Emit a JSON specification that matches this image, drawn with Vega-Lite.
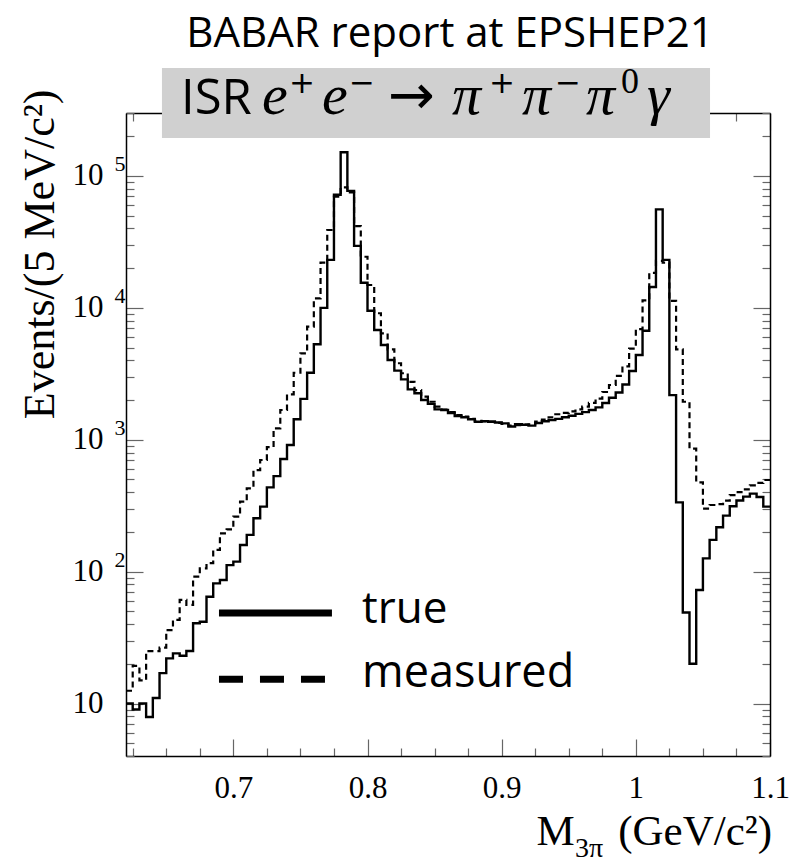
{
  "$schema": "https://vega.github.io/schema/vega-lite/v6.json",
  "width": 644,
  "height": 643,
  "autosize": {"type": "none"},
  "padding": {"left": 126, "top": 113, "right": 24, "bottom": 109},
  "background": "white",
  "config": {"view": {"stroke": null}, "axis": {"grid": false}},
  "datasets": {
    "hist": [
      {"m":0.62,"t":10,"r":12.5},{"m":0.625,"t":9,"r":19.3},{"m":0.63,"t":10,"r":15},{"m":0.635,"t":7.9,"r":25},
      {"m":0.64,"t":11,"r":25},{"m":0.645,"t":17,"r":26.5},{"m":0.65,"t":22,"r":36},{"m":0.655,"t":24,"r":43},
      {"m":0.66,"t":23,"r":61},{"m":0.665,"t":25,"r":56},{"m":0.67,"t":40.6,"r":91.5},{"m":0.675,"t":41.7,"r":106},
      {"m":0.68,"t":64.5,"r":116},{"m":0.685,"t":81.5,"r":146},{"m":0.69,"t":86.4,"r":195},{"m":0.695,"t":112,"r":209},
      {"m":0.7,"t":119,"r":261},{"m":0.705,"t":159,"r":339},{"m":0.71,"t":190,"r":428},{"m":0.715,"t":254,"r":589},
      {"m":0.72,"t":311,"r":702},{"m":0.725,"t":435,"r":880},{"m":0.73,"t":530,"r":1220},{"m":0.735,"t":715,"r":1680},
      {"m":0.74,"t":912,"r":2210},{"m":0.745,"t":1430,"r":3220},{"m":0.75,"t":2040,"r":4520},{"m":0.755,"t":3220,"r":7190},
      {"m":0.76,"t":5300,"r":11800},{"m":0.765,"t":10000,"r":22000},{"m":0.77,"t":23100,"r":38900},{"m":0.775,"t":72000,"r":69600},
      {"m":0.78,"t":151000,"r":82000},{"m":0.785,"t":77000,"r":75000},{"m":0.79,"t":29500,"r":41700},{"m":0.795,"t":15500,"r":24400},
      {"m":0.8,"t":9500,"r":14900},{"m":0.805,"t":6790,"r":9100},{"m":0.81,"t":5230,"r":6410},{"m":0.815,"t":4020,"r":4850},
      {"m":0.82,"t":3340,"r":3800},{"m":0.825,"t":2870,"r":3190},{"m":0.83,"t":2410,"r":2750},{"m":0.835,"t":2250,"r":2380},
      {"m":0.84,"t":2000,"r":2120},{"m":0.845,"t":1870,"r":1940},{"m":0.85,"t":1700,"r":1780},{"m":0.855,"t":1680,"r":1690},
      {"m":0.86,"t":1590,"r":1620},{"m":0.865,"t":1513,"r":1540},{"m":0.87,"t":1480,"r":1500},{"m":0.875,"t":1430,"r":1440},
      {"m":0.88,"t":1370,"r":1390},{"m":0.885,"t":1380,"r":1380},{"m":0.89,"t":1370,"r":1370},{"m":0.895,"t":1350,"r":1340},
      {"m":0.9,"t":1330,"r":1320},{"m":0.905,"t":1260,"r":1280},{"m":0.91,"t":1310,"r":1290},{"m":0.915,"t":1300,"r":1300},
      {"m":0.92,"t":1280,"r":1310},{"m":0.925,"t":1340,"r":1370},{"m":0.93,"t":1380,"r":1420},{"m":0.935,"t":1410,"r":1480},
      {"m":0.94,"t":1440,"r":1560},{"m":0.945,"t":1480,"r":1600},{"m":0.95,"t":1520,"r":1640},{"m":0.955,"t":1570,"r":1700},
      {"m":0.96,"t":1620,"r":1780},{"m":0.965,"t":1680,"r":1900},{"m":0.97,"t":1760,"r":2050},{"m":0.975,"t":1900,"r":2300},
      {"m":0.98,"t":2080,"r":2600},{"m":0.985,"t":2280,"r":3050},{"m":0.99,"t":2620,"r":3600},{"m":0.995,"t":3320,"r":4900},
      {"m":1.0,"t":4390,"r":6900},{"m":1.005,"t":6700,"r":11400},{"m":1.01,"t":14400,"r":18400},{"m":1.015,"t":55800,"r":22700},
      {"m":1.02,"t":23100,"r":22000},{"m":1.025,"t":2180,"r":11300},{"m":1.03,"t":335,"r":4850},{"m":1.035,"t":49,"r":1940},
      {"m":1.04,"t":20,"r":855},{"m":1.045,"t":72.6,"r":475},{"m":1.05,"t":126,"r":300},{"m":1.055,"t":174,"r":320},
      {"m":1.06,"t":217,"r":325},{"m":1.065,"t":266,"r":345},{"m":1.07,"t":313,"r":380},{"m":1.075,"t":346,"r":400},
      {"m":1.08,"t":370,"r":420},{"m":1.085,"t":390,"r":450},{"m":1.09,"t":368,"r":470},{"m":1.095,"t":311,"r":495},
      {"m":1.1,"t":311,"r":495}
    ]
  },
  "data": {"name": "hist"},
  "resolve": {"axis": {"x": "independent", "y": "independent"}},
  "layer": [
    {
      "data": {"values": [{}]},
      "mark": {"type": "rect", "color": "#d0d0d0", "clip": false},
      "encoding": {
        "x": {"datum": 0.6468, "type": "quantitative",
          "axis": {"orient": "top", "values": [0.625,0.65,0.675,0.7,0.725,0.75,0.775,0.8,0.825,0.85,0.875,0.9,0.925,0.95,0.975,1,1.025,1.05,1.075,1.1],
            "labels": false, "title": null, "domainColor": "#000", "domainWidth": 1.5, "tickColor": "#666", "tickWidth": 1.2,
            "tickSize": {"condition": {"test": "abs(datum.value*10-round(datum.value*10))<0.001", "value": -17}, "value": -8}}},
        "x2": {"datum": 1.0553},
        "y": {"datum": 194000, "type": "quantitative",
          "axis": {"orient": "right", "values": [4,5,6,7,8,9,10,20,30,40,50,60,70,80,90,100,200,300,400,500,600,700,800,900,1000,2000,3000,4000,5000,6000,7000,8000,9000,10000,20000,30000,40000,50000,60000,70000,80000,90000,100000,200000,300000],
            "labels": false, "title": null, "domainColor": "#000", "domainWidth": 1.5, "tickColor": "#666", "tickWidth": 1.2,
            "tickSize": {"condition": {"test": "abs(log(datum.value)/LN10-round(log(datum.value)/LN10))<0.001", "value": -17}, "value": -8}}},
        "y2": {"datum": 658000}
      }
    },
    {
      "mark": {"type": "line", "interpolate": "step-after", "color": "black", "strokeWidth": 2.4, "clip": true},
      "encoding": {
        "x": {"field": "m", "type": "quantitative", "scale": {"domain": [0.62, 1.1], "nice": false, "zero": false},
          "axis": {"orient": "bottom", "values": [0.625,0.65,0.675,0.7,0.725,0.75,0.775,0.8,0.825,0.85,0.875,0.9,0.925,0.95,0.975,1,1.025,1.05,1.075,1.1],
            "labels": false, "title": null, "domainColor": "#000", "domainWidth": 1.5, "tickColor": "#666", "tickWidth": 1.2,
            "tickSize": {"condition": {"test": "abs(datum.value*10-round(datum.value*10))<0.001", "value": -17}, "value": -8}}},
        "y": {"field": "t", "type": "quantitative", "scale": {"type": "log", "domain": [4, 300000], "nice": false},
          "axis": {"orient": "left", "values": [4,5,6,7,8,9,10,20,30,40,50,60,70,80,90,100,200,300,400,500,600,700,800,900,1000,2000,3000,4000,5000,6000,7000,8000,9000,10000,20000,30000,40000,50000,60000,70000,80000,90000,100000,200000,300000],
            "labels": false, "title": null, "domainColor": "#000", "domainWidth": 1.5, "tickColor": "#666", "tickWidth": 1.2,
            "tickSize": {"condition": {"test": "abs(log(datum.value)/LN10-round(log(datum.value)/LN10))<0.001", "value": -17}, "value": -8}}}
      }
    },
    {
      "mark": {"type": "line", "interpolate": "step-after", "color": "black", "strokeWidth": 2.2, "strokeDash": [6, 4], "clip": true},
      "encoding": {
        "x": {"field": "m", "type": "quantitative",
          "axis": {"orient": "bottom", "values": [0.7, 0.8, 0.9, 1, 1.1], "ticks": false, "domain": false,
            "labelExpr": "format(datum.value, '~g')", "labelFont": "Liberation Serif", "labelFontSize": 31, "labelColor": "black",
            "labelPadding": 17, "labelFlush": false, "labelOverlap": false, "labelBound": false, "title": null}},
        "y": {"field": "r", "type": "quantitative",
          "axis": {"orient": "left", "values": [10, 100, 1000, 10000, 100000], "ticks": false, "domain": false,
            "labelExpr": "'10'", "labelFont": "Liberation Serif", "labelFontSize": 31, "labelColor": "black",
            "labelAlign": "right", "labelBaseline": "middle", "labelPadding": 23, "labelOverlap": false,
            "title": "Events/(5 MeV/c²)", "titleFont": "Liberation Serif", "titleFontSize": 44, "titleFontWeight": "normal",
            "titleColor": "black", "titleAngle": 270, "titleAlign": "right", "titleBaseline": "alphabetic", "titleX": -73, "titleY": -24}}
      }
    },
    {
      "data": {"values": [{}]},
      "mark": {"type": "rule", "color": "black", "strokeWidth": 7},
      "encoding": {
        "x": {"datum": 0.6893, "type": "quantitative", "axis": null},
        "x2": {"datum": 0.7735},
        "y": {"datum": 48.5, "type": "quantitative",
          "axis": {"orient": "left", "values": [100, 1000, 10000, 100000], "ticks": false, "domain": false,
            "labelExpr": "'' + round(log(datum.value)/LN10)", "labelFont": "Liberation Serif", "labelFontSize": 22, "labelColor": "black",
            "labelAlign": "right", "labelBaseline": "middle", "labelPadding": 1, "labelOffset": -12, "labelOverlap": false, "title": null}}
      }
    },
    {
      "data": {"values": [{}]},
      "mark": {"type": "rule", "color": "black", "strokeWidth": 7, "strokeDash": [24, 17]},
      "encoding": {
        "x": {"datum": 0.6893, "type": "quantitative", "axis": null},
        "x2": {"datum": 0.7683},
        "y": {"datum": 15.3, "type": "quantitative", "axis": null}
      }
    },
    {
      "data": {"values": [{}]},
      "mark": {"type": "text", "text": "true", "font": "Open Sans", "fontSize": 44, "align": "left", "baseline": "alphabetic", "color": "black"},
      "encoding": {"x": {"datum": 0.7959, "type": "quantitative", "axis": null}, "y": {"datum": 40.7, "type": "quantitative", "axis": null}}
    },
    {
      "data": {"values": [{}]},
      "mark": {"type": "text", "text": "measured", "font": "Open Sans", "fontSize": 45, "align": "left", "baseline": "alphabetic", "color": "black"},
      "encoding": {"x": {"datum": 0.7959, "type": "quantitative", "axis": null}, "y": {"datum": 13.3, "type": "quantitative", "axis": null}}
    },
    {
      "data": {"values": [{}]},
      "mark": {"type": "text", "text": "BABAR report at EPSHEP21", "font": "Open Sans", "fontSize": 42, "align": "center", "baseline": "alphabetic", "color": "black"},
      "encoding": {"x": {"datum": 0.8615, "type": "quantitative", "axis": null}, "y": {"datum": 950000, "type": "quantitative", "axis": null}}
    },
    {
      "data": {"values": [{}]},
      "mark": {"type": "text", "text": "ISR", "font": "Open Sans", "fontSize": 49, "align": "left", "baseline": "alphabetic", "color": "black"},
      "encoding": {"x": {"datum": 0.661, "type": "quantitative", "axis": null}, "y": {"datum": 295000, "type": "quantitative", "axis": null}}
    },
    {
      "data": {"values": [{}]},
      "mark": {"type": "text", "text": "e", "font": "Liberation Serif", "fontStyle": "italic", "fontSize": 58, "align": "left", "baseline": "alphabetic", "color": "black"},
      "encoding": {"x": {"datum": 0.72137, "type": "quantitative", "axis": null}, "y": {"datum": 295000, "type": "quantitative", "axis": null}}
    },
    {
      "data": {"values": [{}]},
      "mark": {"type": "text", "text": "+", "font": "DejaVu Sans", "fontSize": 31, "align": "left", "baseline": "alphabetic", "color": "black"},
      "encoding": {"x": {"datum": 0.74149, "type": "quantitative", "axis": null}, "y": {"datum": 426000, "type": "quantitative", "axis": null}}
    },
    {
      "data": {"values": [{}]},
      "mark": {"type": "text", "text": "e", "font": "Liberation Serif", "fontStyle": "italic", "fontSize": 58, "align": "left", "baseline": "alphabetic", "color": "black"},
      "encoding": {"x": {"datum": 0.76609, "type": "quantitative", "axis": null}, "y": {"datum": 295000, "type": "quantitative", "axis": null}}
    },
    {
      "data": {"values": [{}]},
      "mark": {"type": "text", "text": "−", "font": "DejaVu Sans", "fontSize": 31, "align": "left", "baseline": "alphabetic", "color": "black"},
      "encoding": {"x": {"datum": 0.78621, "type": "quantitative", "axis": null}, "y": {"datum": 426000, "type": "quantitative", "axis": null}}
    },
    {
      "data": {"values": [{}]},
      "mark": {"type": "text", "text": "→", "font": "DejaVu Sans", "fontSize": 56, "align": "left", "baseline": "alphabetic", "color": "black"},
      "encoding": {"x": {"datum": 0.8153, "type": "quantitative", "axis": null}, "y": {"datum": 295000, "type": "quantitative", "axis": null}}
    },
    {
      "data": {"values": [{}]},
      "mark": {"type": "text", "text": "π", "font": "Liberation Serif", "fontStyle": "italic", "fontSize": 58, "align": "left", "baseline": "alphabetic", "color": "black"},
      "encoding": {"x": {"datum": 0.86298, "type": "quantitative", "axis": null}, "y": {"datum": 295000, "type": "quantitative", "axis": null}}
    },
    {
      "data": {"values": [{}]},
      "mark": {"type": "text", "text": "+", "font": "DejaVu Sans", "fontSize": 31, "align": "left", "baseline": "alphabetic", "color": "black"},
      "encoding": {"x": {"datum": 0.89056, "type": "quantitative", "axis": null}, "y": {"datum": 426000, "type": "quantitative", "axis": null}}
    },
    {
      "data": {"values": [{}]},
      "mark": {"type": "text", "text": "π", "font": "Liberation Serif", "fontStyle": "italic", "fontSize": 58, "align": "left", "baseline": "alphabetic", "color": "black"},
      "encoding": {"x": {"datum": 0.91516, "type": "quantitative", "axis": null}, "y": {"datum": 295000, "type": "quantitative", "axis": null}}
    },
    {
      "data": {"values": [{}]},
      "mark": {"type": "text", "text": "−", "font": "DejaVu Sans", "fontSize": 31, "align": "left", "baseline": "alphabetic", "color": "black"},
      "encoding": {"x": {"datum": 0.93975, "type": "quantitative", "axis": null}, "y": {"datum": 426000, "type": "quantitative", "axis": null}}
    },
    {
      "data": {"values": [{}]},
      "mark": {"type": "text", "text": "π", "font": "Liberation Serif", "fontStyle": "italic", "fontSize": 58, "align": "left", "baseline": "alphabetic", "color": "black"},
      "encoding": {"x": {"datum": 0.96286, "type": "quantitative", "axis": null}, "y": {"datum": 295000, "type": "quantitative", "axis": null}}
    },
    {
      "data": {"values": [{}]},
      "mark": {"type": "text", "text": "0", "font": "Liberation Serif", "fontSize": 36, "align": "left", "baseline": "alphabetic", "color": "black"},
      "encoding": {"x": {"datum": 0.98894, "type": "quantitative", "axis": null}, "y": {"datum": 426000, "type": "quantitative", "axis": null}}
    },
    {
      "data": {"values": [{}]},
      "mark": {"type": "text", "text": "γ", "font": "Liberation Serif", "fontStyle": "italic", "fontSize": 58, "align": "left", "baseline": "alphabetic", "color": "black"},
      "encoding": {"x": {"datum": 1.00832, "type": "quantitative", "axis": null}, "y": {"datum": 295000, "type": "quantitative", "axis": null}}
    },
    {
      "data": {"values": [{}]},
      "mark": {"type": "text", "text": "M", "font": "Liberation Serif", "fontSize": 43, "align": "left", "baseline": "alphabetic", "color": "black"},
      "encoding": {"x": {"datum": 0.9259, "type": "quantitative", "axis": null}, "y": {"datum": 0.845, "type": "quantitative", "axis": null}}
    },
    {
      "data": {"values": [{}]},
      "mark": {"type": "text", "text": "3π", "font": "Liberation Serif", "fontSize": 28, "align": "left", "baseline": "alphabetic", "color": "black"},
      "encoding": {"x": {"datum": 0.95466, "type": "quantitative", "axis": null}, "y": {"datum": 0.686, "type": "quantitative", "axis": null}}
    },
    {
      "data": {"values": [{}]},
      "mark": {"type": "text", "text": "(GeV/c²)", "font": "Liberation Serif", "fontSize": 43, "align": "right", "baseline": "alphabetic", "color": "black"},
      "encoding": {"x": {"datum": 1.1015, "type": "quantitative", "axis": null}, "y": {"datum": 0.845, "type": "quantitative", "axis": null}}
    }
  ]
}
